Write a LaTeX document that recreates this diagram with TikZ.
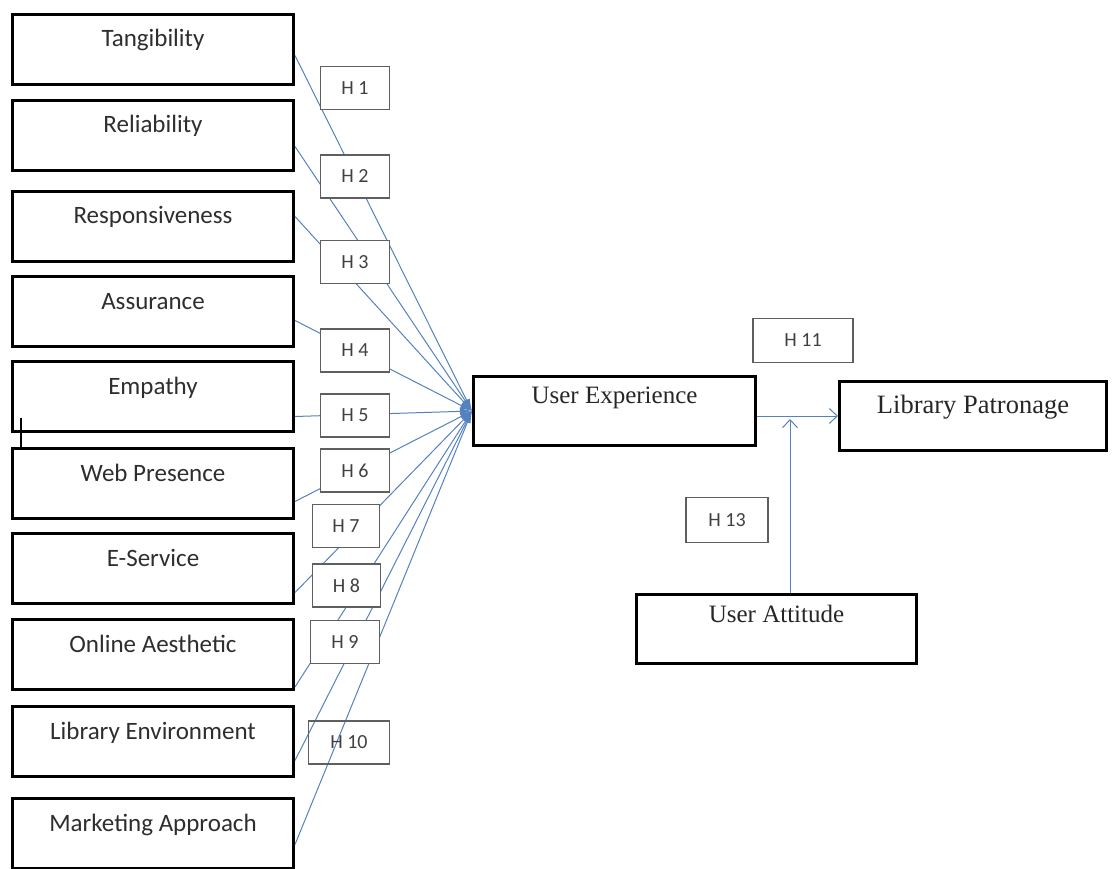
\documentclass[tikz,border=0pt]{standalone}
\usepackage{fontspec}
\setmainfont{Liberation Serif}
\newfontfamily\calib{Carlito}
\usetikzlibrary{arrows.meta}

\definecolor{linkblue}{RGB}{84,130,190}
\definecolor{hgray}{RGB}{95,95,95}

\tikzset{
  factor/.style={draw=black, line width=3pt, minimum width=281pt, minimum height=70pt,
    inner sep=0pt, text height=32.5pt, text depth=37.5pt,
    font=\calib\fontsize{25}{28}\selectfont, text=black!82},
  outcome/.style={draw=black, line width=3pt, inner sep=0pt, minimum height=69pt,
    font=\fontsize{25}{28}\selectfont, text=black!85},
  hyp/.style={draw=hgray, line width=1.3pt, fill=white, minimum width=69pt, minimum height=43pt,
    inner sep=0pt, font=\calib\fontsize{20}{23}\selectfont, text=black!75},
  link/.style={draw=linkblue, line width=1pt},
  into/.style={-{Latex[length=12pt,width=7pt]}},
  barb/.style={-{Straight Barb[length=8pt,width=15pt]}},
}

\begin{document}
\begin{tikzpicture}[x=1pt,y=-1pt]
          \useasboundingbox (0,0) rectangle (1116,869);
          %% factors on the left
          \foreach \nm/\yc/\txt in {f1/49.5/Tangibility, f2/135.5/Reliability,
              f3/226.5/Responsiveness, f4/311.5/Assurance, f5/396.5/Empathy,
              f6/483.5/Web Presence, f7/568.5/E-Service, f8/654.5/Online Aesthetic,
              f9/741.5/Library Environment, f10/833.5/Marketing Approach}
            \node[factor] (\nm) at (153,\yc) {\txt};
          \draw[line width=1.2pt] (21,418) -- (21,447);        % stray mark
          %% outcomes
          \node[outcome, minimum width=282pt, text height=26.5pt, text depth=42.5pt] (ue) at (614.5,411) {User Experience};
          \node[outcome, minimum width=267pt, text height=32pt, text depth=37pt,
                font=\fontsize{26.5}{30}\selectfont] (lp) at (973,416) {Library Patronage};
          \node[outcome, minimum width=280pt, text height=27.5pt, text depth=41.5pt] (ua) at (776.5,629) {User Attitude};
          %% links into user experience
          \foreach \nm/\dy in {f1/42.5, f2/47.5, f3/26.5, f4/45.5, f5/56.5,
              f6/54.5, f7/60.5, f8/69, f9/55.5, f10/47.5}
            \draw[link,into] ([yshift=-\dy]\nm.north east) -- (ue.west);
          \coordinate (jn) at (790,416);
          \draw[link,barb] (lp.west -| ue.east) -- (lp.west);
          \draw[link,barb,shorten >=3pt] (ua.north -| jn) -- (jn);
          %% hypothesis labels
          \node[hyp] (h1) at (355,88)    {H 1};
          \node[hyp] (h2) at (355,176.5) {H 2};
          \node[hyp] (h3) at (355,262)   {H 3};
          \node[hyp] (h4) at (355,350.5) {H 4};
          \node[hyp] (h5) at (355,415.5) {H 5};
          \node[hyp] (h6) at (355,470.5) {H 6};
          \node[hyp, minimum width=67pt] (h7) at (346,526)   {H 7};
          \node[hyp, minimum width=68pt] (h8) at (346.5,585.5) {H 8};
          \node[hyp] (h9) at (345,642)   {H 9};
          \node[hyp, fill=none, minimum width=81pt] (h10) at (349,742.5) {H 10};
          \node[hyp, minimum width=100pt, minimum height=44pt] (h11) at (803,340.5) {H 11};
          \node[hyp, minimum width=82pt, minimum height=45pt] (h13) at (727,520) {H 13};
\end{tikzpicture}
\end{document}
